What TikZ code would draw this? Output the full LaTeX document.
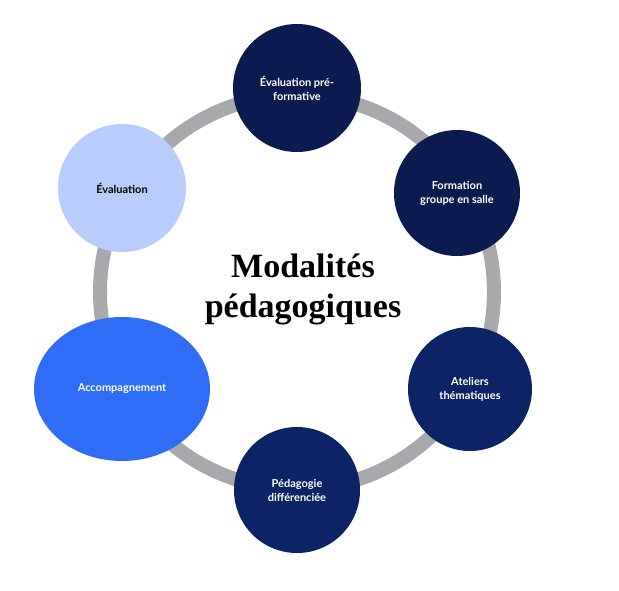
\documentclass[tikz,border=0pt]{standalone}
\usepackage{fontspec}
\setmainfont{Liberation Serif}
\newfontfamily\lab{Lato}
\usetikzlibrary{shapes.geometric}
\definecolor{navy}{HTML}{0B1B4F}
\definecolor{navyb}{HTML}{0C2466}
\definecolor{bright}{HTML}{2F6DF6}
\definecolor{pale}{HTML}{B8CDFC}
\definecolor{ring}{HTML}{A7A9AC}
\begin{document}
\begin{tikzpicture}[x=1pt,y=-1pt,
  c/.style={circle,minimum size=128pt,inner sep=0pt,align=center,text=white,font=\lab\bfseries\fontsize{11}{14}\selectfont}]
\useasboundingbox (0,0) rectangle (619,590);
\fill[white] (0,0) rectangle (619,590);
\draw[ring,line width=14pt] (297,292) circle (197);
\node[c,fill=navy] (a) at (297,88) {Évaluation pré-\\formative};
\node[c,fill=navy,minimum size=126pt] (b) at (457,193) {Formation\\groupe en salle};
\node[c,fill=navyb,minimum size=124pt] (d) at (470,389) {Ateliers\\thématiques};
\node[c,fill=navyb,minimum size=126pt] (e) at (297,490) {Pédagogie\\différenciée};
\node[ellipse,fill=bright,minimum width=176pt,minimum height=144pt,text=white,font=\lab\bfseries\fontsize{11}{14}\selectfont] (f) at (122,389) {Accompagnement};
\node[c,fill=pale,text=black] (g) at (122,188) {Évaluation};
\node[align=center,font=\bfseries\fontsize{34}{40}\selectfont] (t) at (303,289) {Modalités\\pédagogiques};
\end{tikzpicture}
\end{document}
